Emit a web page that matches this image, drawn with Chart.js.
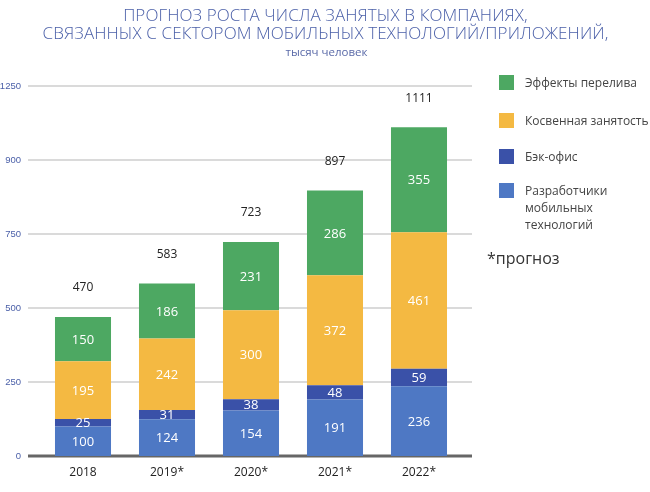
<!DOCTYPE html>
<html>
<head>
<meta charset="utf-8">
<script src="https://cdn.jsdelivr.net/npm/chart.js@4"></script>
<style>
  html, body { margin: 0; padding: 0; background: #fff; }
  #wrap { position: relative; width: 650px; height: 492px; font-family: 'Open Sans', 'Noto Sans', sans-serif; }
  #title { position: absolute; left: 0; top: 6px; width: 651px; text-align: center; color: #4a5fa8; font-size: 17px; line-height: 17.5px; font-weight: 300; letter-spacing: 0.1px; }
  #subtitle { position: absolute; left: 0; top: 44px; width: 653px; text-align: center; color: #5a6aa8; font-size: 11.5px; }
  #legend { position: absolute; left: 499px; top: 74px; font-size: 12px; color: #444; }
  .item { position: relative; padding-left: 26px; line-height: 17px; }
  .box { position: absolute; left: 0; top: 1px; width: 15px; height: 15px; }
  #note { position: absolute; left: 487px; top: 247px; font-size: 16px; color: #333; }
</style>
</head>
<body>
<div id="wrap">
  <div id="title">ПРОГНОЗ РОСТА ЧИСЛА ЗАНЯТЫХ В КОМПАНИЯХ,<br>СВЯЗАННЫХ С СЕКТОРОМ МОБИЛЬНЫХ ТЕХНОЛОГИЙ/ПРИЛОЖЕНИЙ,</div>
  <div id="subtitle">тысяч человек</div>
  <div id="legend"></div>
  <div id="note">*прогноз</div>
  <canvas id="chart" width="650" height="492"></canvas>
</div>
<script>
// data, thousands of people
const years = ['2018', '2019*', '2020*', '2021*', '2022*'];
const developers = [100, 124, 154, 191, 236];
const backOffice = [25, 31, 38, 48, 59];
const indirect = [195, 242, 300, 372, 461];
const spillover = [150, 186, 231, 286, 355];
// the original axis labels 1000 as "900"
const yTickLabels = ['0', '250', '500', '750', '900', '1250'];

const seriesNames = ['Разработчики\nмобильных\nтехнологий', 'Бэк-офис', 'Косвенная занятость', 'Эффекты перелива'];
const seriesColors = ['#4e78c4', '#3a51a8', '#f4b942', '#4da862'];
const seriesData = [developers, backOffice, indirect, spillover];

const totals = years.map((_, i) => seriesData.reduce((s, arr) => s + arr[i], 0));

// legend (top to bottom = reverse stack order)
const legendTops = [0, 38, 74, 108];
const legend = document.getElementById('legend');
[3, 2, 1, 0].forEach((k, n) => {
  const div = document.createElement('div');
  div.className = 'item';
  div.style.position = 'absolute';
  div.style.top = legendTops[n] + 'px';
  div.style.width = '150px';
  div.innerHTML = '<span class="box" style="background:' + seriesColors[k] + '"></span>' +
    seriesNames[k].replace(/\n/g, '<br>');
  legend.appendChild(div);
});

const gridPlugin = {
  id: 'extGrid',
  beforeDatasetsDraw(chart) {
    const { ctx, chartArea, scales } = chart;
    const y = scales.y;
    ctx.save();
    y.ticks.forEach(t => {
      const py = y.getPixelForValue(t.value);
      if (t.value === 0) {
        ctx.strokeStyle = '#666';
        ctx.lineWidth = 3;
      } else {
        ctx.strokeStyle = '#dadada';
        ctx.lineWidth = 2;
      }
      ctx.beginPath();
      ctx.moveTo(chartArea.left - 13, py);
      ctx.lineTo(chartArea.right + 11, py);
      ctx.stroke();
    });
    ctx.restore();
  },
  afterDatasetsDraw(chart) {
    const { ctx, scales } = chart;
    ctx.save();
    ctx.textAlign = 'center';
    ctx.textBaseline = 'middle';
    chart.data.datasets.forEach((ds, di) => {
      const meta = chart.getDatasetMeta(di);
      meta.data.forEach((bar, i) => {
        ctx.fillStyle = '#fff';
        ctx.font = '13px "Open Sans", sans-serif';
        const mid = (bar.y + bar.base) / 2;
        ctx.fillText(String(ds.data[i]), bar.x, mid + 1);
      });
    });
    ctx.fillStyle = '#222';
    ctx.font = '12px "Open Sans", sans-serif';
    totals.forEach((t, i) => {
      const px = scales.x.getPixelForValue(i);
      ctx.fillText(String(t), px, scales.y.getPixelForValue(t) - 29);
    });
    ctx.restore();
  }
};

new Chart(document.getElementById('chart'), {
  type: 'bar',
  data: {
    labels: years,
    datasets: seriesData.map((arr, k) => ({
      label: seriesNames[k],
      data: arr,
      backgroundColor: seriesColors[k],
      borderWidth: 0,
      barPercentage: 0.667,
      categoryPercentage: 1
    }))
  },
  options: {
    responsive: false,
    animation: false,
    layout: { padding: { top: 86, right: 189, left: 0, bottom: 0 } },
    plugins: {
      legend: { display: false },
      tooltip: { enabled: false }
    },
    scales: {
      x: {
        stacked: true,
        grid: { display: false, drawTicks: false },
        border: { display: false },
        ticks: {
          padding: 9,
          color: '#222',
          font: { family: 'Open Sans', size: 12 }
        },
        afterFit: s => { s.height = 36; }
      },
      y: {
        stacked: true,
        min: 0,
        max: 1250,
        grid: { display: false, drawTicks: false },
        border: { display: false },
        ticks: {
          stepSize: 250,
          padding: 20,
          color: '#4a5fa8',
          font: { family: 'Liberation Sans', size: 9.5 },
          callback: (v, i) => yTickLabels[i]
        },
        afterFit: s => { s.width = 41; }
      }
    }
  },
  plugins: [gridPlugin]
});
</script>
</body>
</html>
